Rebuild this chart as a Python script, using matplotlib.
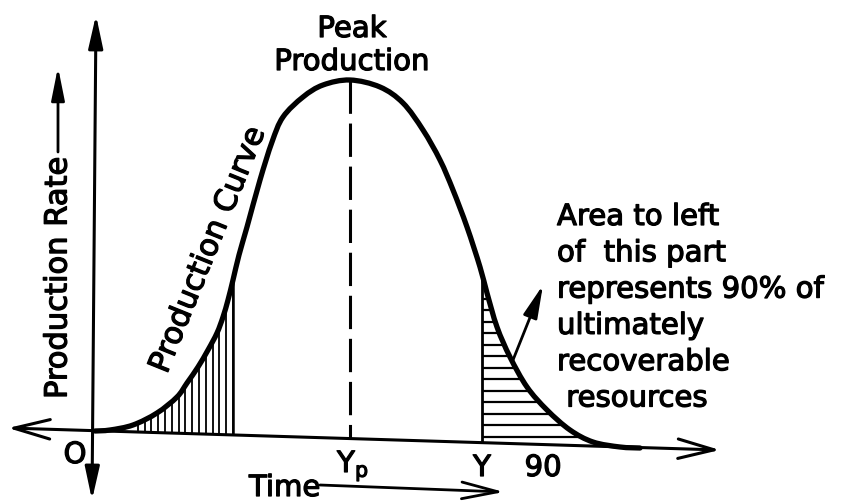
import numpy as np
import matplotlib
matplotlib.use("Agg")
import matplotlib.pyplot as plt
from matplotlib.path import Path
from matplotlib.patches import PathPatch
import matplotlib.patheffects as pe

plt.rcParams['font.family'] = ['DejaVu Sans']

# ---- data (in picture pixel coordinates) ----
curve_x = [95, 110, 133, 157, 177, 187, 198, 208, 217, 223, 228, 233, 239, 247, 260, 272,
           283, 303, 323, 350,
           380, 403, 423, 440, 453, 467, 480, 487, 497, 510, 527, 547, 570, 593, 620, 640]
curve_y = [431, 430, 425, 413, 397, 383, 367, 350, 333, 317, 300, 280, 255, 227, 180, 142,
           117, 97, 85, 80,
           87, 103, 130, 160, 190, 227, 267, 293, 327, 357, 387, 410, 430, 442, 447, 448]
axis_x = [8, 720]          # time axis ends
axis_y = [428, 450]
peak_x = 350               # Yp
left_shade = [133, 233]    # start / end of the vertically hatched part
y90_x = 482                # Y90

peak_label = ["Peak", "Production"]
note_lines = ["Area to left", "of  this part", "represents 90% of", "ultimately",
              "recoverable", " resources"]

# ---- figure ----
fig = plt.figure(figsize=(8.41, 5.04), dpi=100)
ax = fig.add_axes([0, 0, 1, 1])
ax.set_xlim(0, 841)
ax.set_ylim(504, 0)
ax.axis('off')

cx = np.array(curve_x, float)
cy = np.array(curve_y, float)

def base(x):
    return np.interp(x, axis_x, axis_y)

K = 'black'
heavy = [pe.withStroke(linewidth=0.9, foreground=K)]

# axes arrows
ax.annotate('', xy=(96, 15), xytext=(92, 500),
            arrowprops=dict(arrowstyle='<|-|>, head_length=1.0, head_width=0.22',
                            lw=2.2, color=K, shrinkA=0, shrinkB=0, mutation_scale=20))
ax.annotate('', xy=(axis_x[0], axis_y[0]), xytext=(axis_x[1], axis_y[1]),
            arrowprops=dict(arrowstyle='<->, head_length=1.3, head_width=0.35',
                            lw=2.2, color=K, shrinkA=0, shrinkB=0, mutation_scale=20))

# production curve: smooth path through the read points (Catmull-Rom as Bezier)
pts = np.column_stack([cx, cy])
ext = np.vstack([pts[0], pts, pts[-1]])
verts = [tuple(pts[0])]
codes = [Path.MOVETO]
for i in range(1, len(ext) - 2):
    p0, p1, p2, p3 = ext[i - 1], ext[i], ext[i + 1], ext[i + 2]
    verts += [tuple(p1 + (p2 - p0) / 6), tuple(p2 - (p3 - p1) / 6), tuple(p2)]
    codes += [Path.CURVE4] * 3
ax.add_patch(PathPatch(Path(verts, codes), fill=False, ec=K, lw=3.8,
                       joinstyle='round', capstyle='round', zorder=5))

# dashed line at peak
peak_y = np.interp(peak_x, cx, cy)
lw_d = 2.2
ax.plot([peak_x, peak_x], [peak_y, base(peak_x)], color=K, lw=lw_d,
        dashes=(24 / lw_d, 7 / lw_d))

# left vertical hatching
hx = np.arange(left_shade[1], left_shade[0] - 1, -6.8)
ax.vlines(hx, np.interp(hx, cx, cy), base(hx), color=K, lw=1.3)
ax.vlines([left_shade[1]], np.interp(left_shade[1], cx, cy), base(left_shade[1]), color=K, lw=1.8)

# right horizontal hatching
ip = int(np.argmin(cy))
dx = cx[ip:]
dy = cy[ip:]
top90 = np.interp(y90_x, cx, cy)
ax.vlines([y90_x], top90, base(y90_x), color=K, lw=2.0)
hy = np.arange(base(y90_x) - 6, top90 + 4, -11.5)
ax.hlines(hy, y90_x, np.interp(hy, dy, dx), color=K, lw=1.6)

# texts
fs = 21
tk = dict(fontsize=fs, path_effects=heavy)
ax.text(352, 37, peak_label[0], ha='center', va='baseline', **tk)
ax.text(352, 70, peak_label[1], ha='center', va='baseline', **tk)
for i, s in enumerate(note_lines):
    ax.text(557, 225 + 36.3 * i, s, ha='left', va='baseline', **tk)

ax.text(208, 250, "Production Curve", rotation=68, rotation_mode='anchor',
        ha='center', va='center', fontsize=22, path_effects=heavy)
ax.text(58, 278, "Production Rate", rotation=90, ha='center', va='center',
        fontsize=22, path_effects=heavy)
ax.annotate('', xy=(58, 67), xytext=(58, 152),
            arrowprops=dict(arrowstyle='-|>, head_length=1.0, head_width=0.2',
                            lw=2.0, color=K, shrinkA=0, shrinkB=0, mutation_scale=20))

ax.text(75, 463, "O", ha='center', va='baseline', **tk)
ax.text(337, 472, r"Y$_{\mathregular{p}}$", ha='left', va='baseline', **tk)
ax.text(482, 476, "Y", ha='center', va='baseline', **tk)
ax.text(543, 476, "90", ha='center', va='baseline', **tk)

ax.text(249, 496, "Time", ha='left', va='baseline', **tk)
ax.annotate('', xy=(504, 492), xytext=(320, 485),
            arrowprops=dict(arrowstyle='->, head_length=1.3, head_width=0.3',
                            lw=2.0, color=K, shrinkA=0, shrinkB=0, mutation_scale=20))

# pointer arrow to the curve
ax.annotate('', xy=(543, 285), xytext=(513, 360),
            arrowprops=dict(arrowstyle='-|>, head_length=1.0, head_width=0.22',
                            lw=2.0, color=K, shrinkA=0, shrinkB=0, mutation_scale=20))

fig.savefig("out.png", dpi=100, facecolor='white')
